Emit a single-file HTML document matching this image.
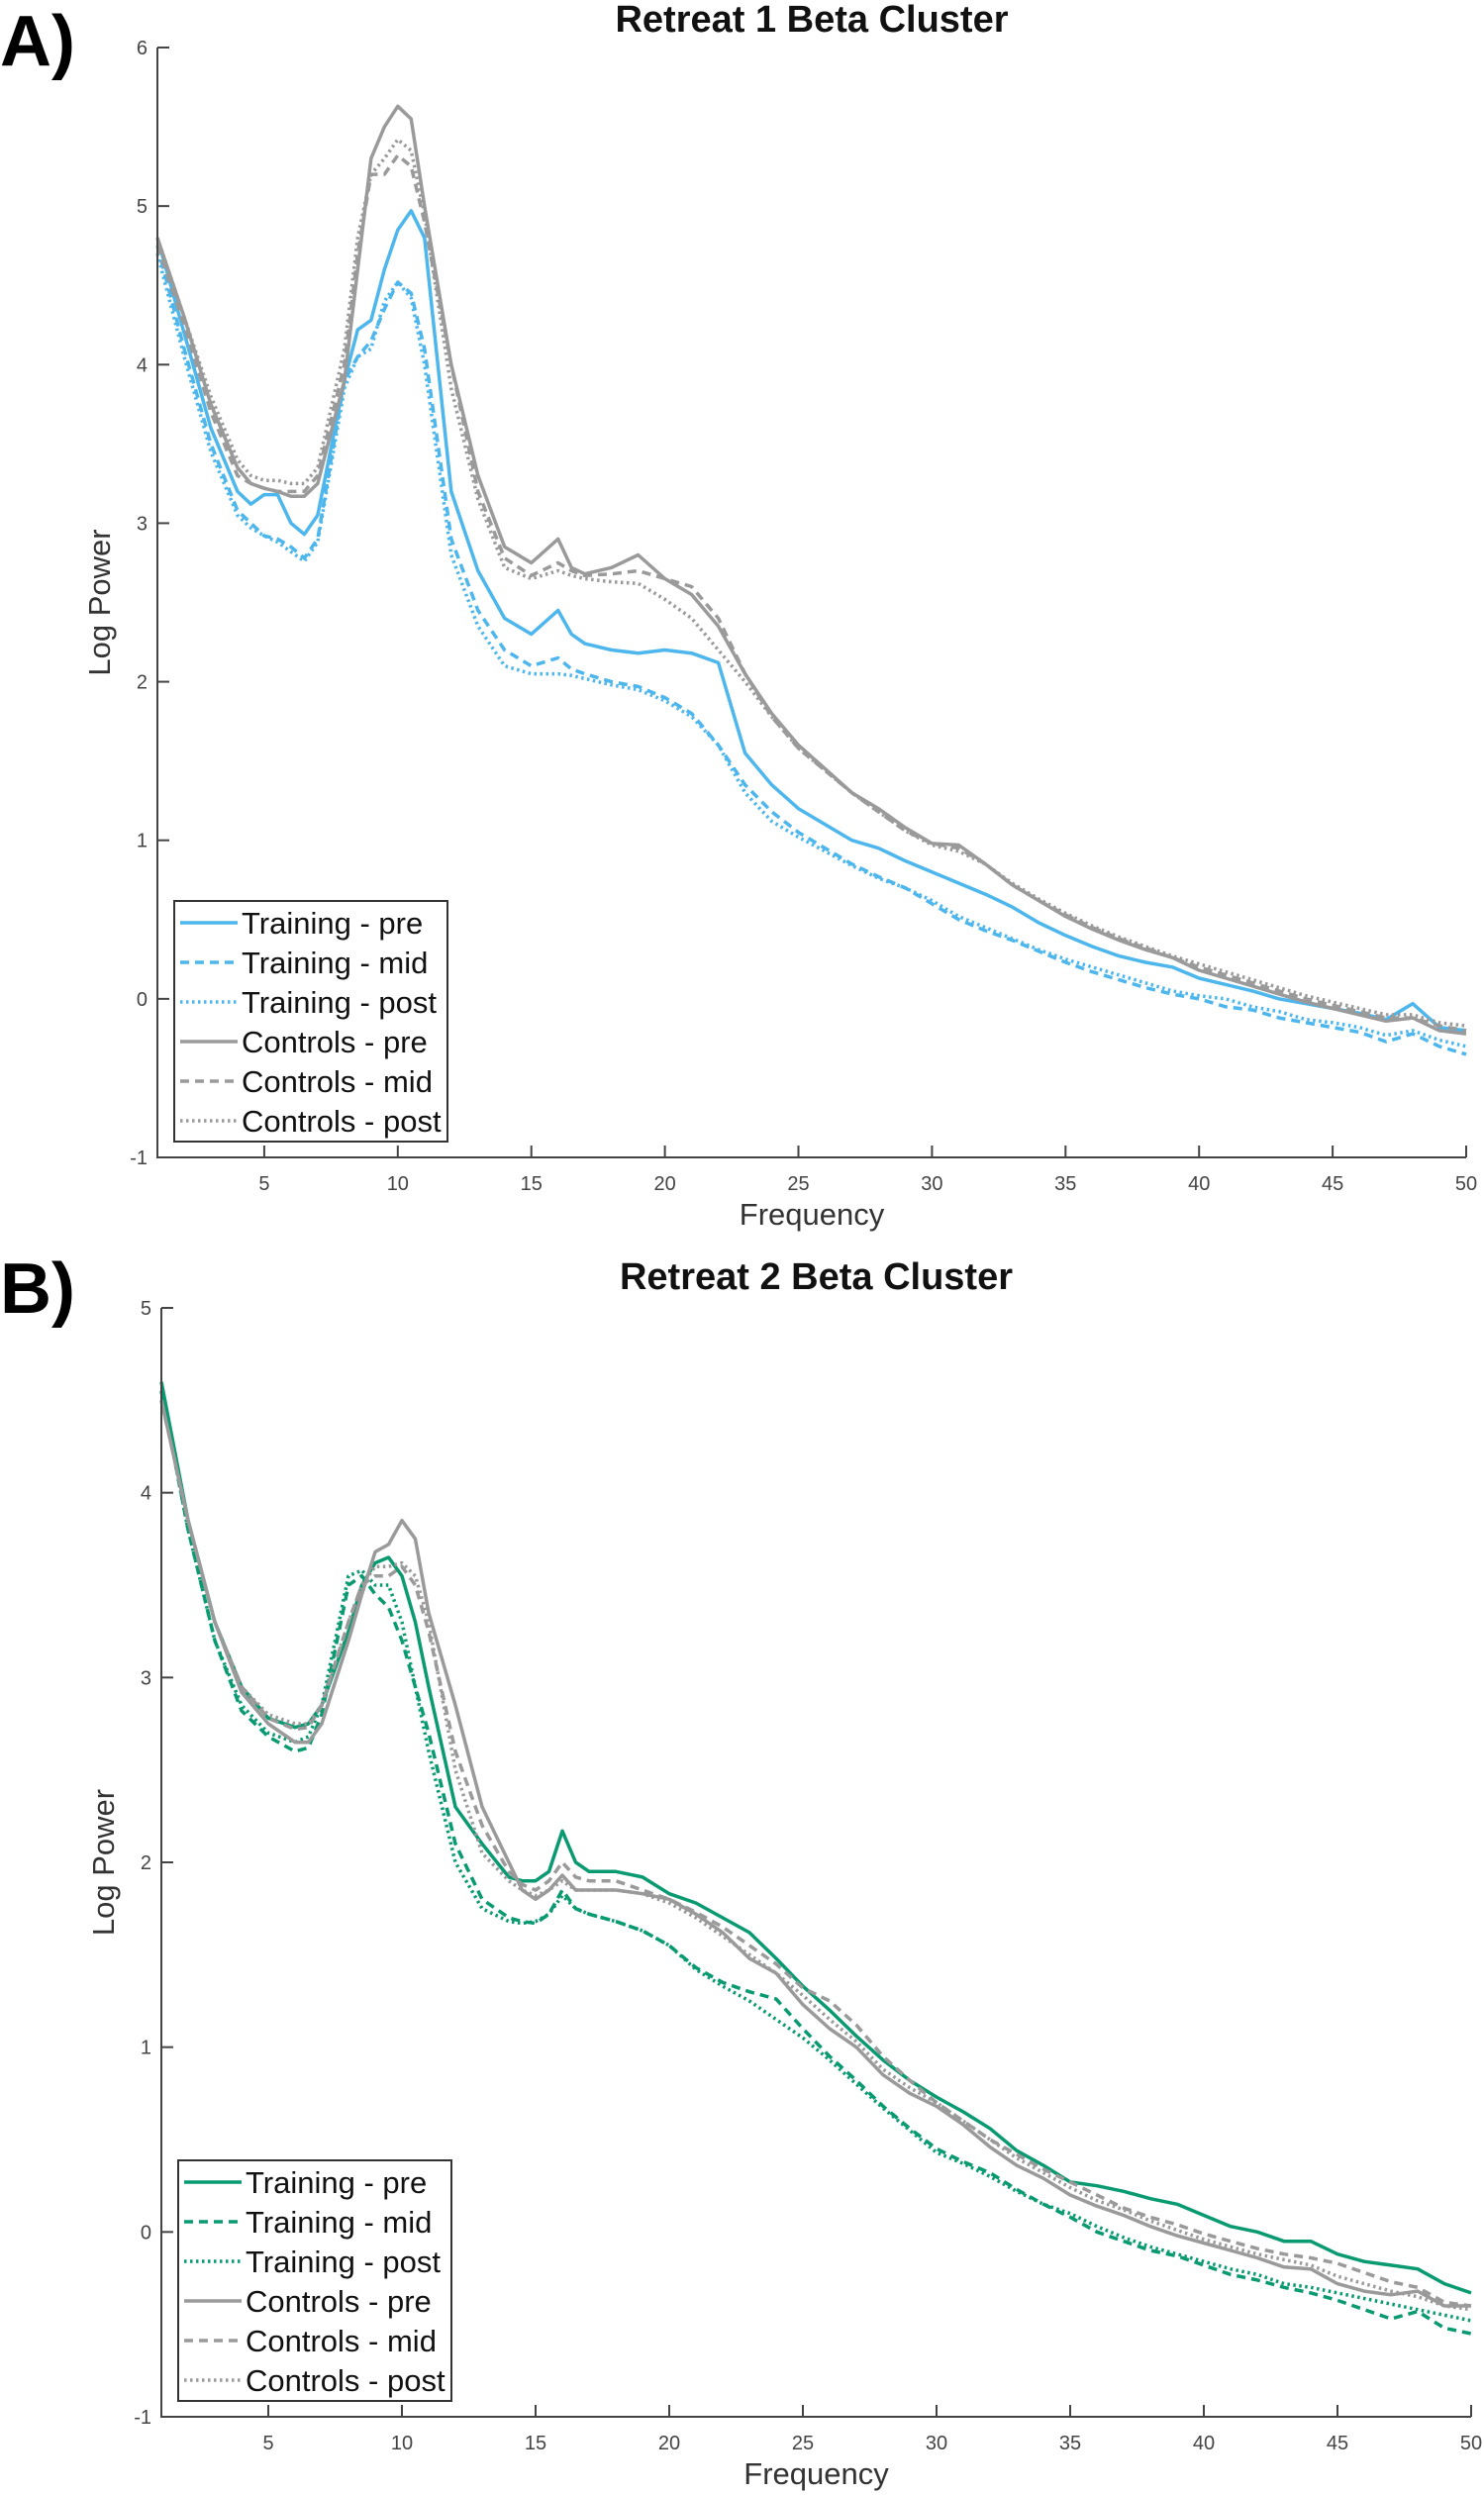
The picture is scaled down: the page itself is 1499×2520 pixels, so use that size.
<!DOCTYPE html>
<html><head><meta charset="utf-8"><style>
html,body{margin:0;padding:0;background:#fff;}
svg{display:block;font-family:"Liberation Sans",Arial,sans-serif;}
</style></head><body>
<svg id="fig" width="1499" height="2520" viewBox="0 0 1499 2520"></svg>
<script>
const freqsA=[1,2,3,4,4.5,5,5.5,6,6.5,7,8,8.5,9,9.5,10,10.5,11,12,13,14,15,16,16.5,17,18,19,20,21,22,23,24,25,26,27,28,29,30,31,32,33,34,35,36,37,38,39,40,41,42,43,44,45,46,47,48,49,50];
const aTrainPre=[4.8,4.2,3.6,3.2,3.12,3.18,3.18,3.0,2.93,3.05,3.9,4.22,4.28,4.6,4.85,4.97,4.8,3.2,2.7,2.4,2.3,2.45,2.3,2.24,2.2,2.18,2.2,2.18,2.12,1.55,1.35,1.2,1.1,1.0,0.95,0.87,0.8,0.73,0.66,0.58,0.48,0.4,0.33,0.27,0.23,0.2,0.13,0.09,0.05,0.0,-0.03,-0.06,-0.09,-0.13,-0.03,-0.18,-0.2];
const aTrainMid=[4.75,4.1,3.5,3.08,3.0,2.92,2.9,2.85,2.78,2.9,3.9,4.05,4.15,4.35,4.52,4.45,4.1,2.9,2.45,2.2,2.1,2.15,2.08,2.05,2.0,1.97,1.9,1.8,1.6,1.35,1.18,1.05,0.95,0.85,0.77,0.7,0.6,0.5,0.43,0.37,0.3,0.23,0.17,0.12,0.07,0.03,0.0,-0.05,-0.07,-0.12,-0.15,-0.18,-0.21,-0.27,-0.22,-0.3,-0.35];
const aTrainPost=[4.7,4.05,3.45,3.05,2.97,2.92,2.88,2.82,2.76,2.88,3.85,4.05,4.1,4.4,4.52,4.42,4.0,2.8,2.35,2.1,2.05,2.05,2.04,2.02,1.98,1.95,1.88,1.78,1.6,1.3,1.12,1.02,0.93,0.84,0.76,0.7,0.62,0.52,0.45,0.38,0.31,0.25,0.2,0.15,0.1,0.05,0.02,0.0,-0.05,-0.08,-0.13,-0.15,-0.18,-0.23,-0.2,-0.26,-0.3];
const aCtrlPre=[4.8,4.3,3.75,3.35,3.25,3.22,3.2,3.17,3.17,3.25,3.9,4.6,5.3,5.5,5.63,5.55,5.0,4.0,3.3,2.85,2.75,2.9,2.72,2.68,2.72,2.8,2.65,2.55,2.35,2.05,1.8,1.6,1.45,1.3,1.2,1.08,0.98,0.97,0.85,0.72,0.62,0.52,0.44,0.37,0.31,0.26,0.18,0.13,0.08,0.03,-0.02,-0.06,-0.1,-0.14,-0.12,-0.2,-0.22];
const aCtrlMid=[4.75,4.25,3.7,3.3,3.25,3.22,3.2,3.2,3.2,3.3,4.0,4.7,5.2,5.2,5.32,5.25,4.9,4.0,3.2,2.78,2.67,2.75,2.7,2.67,2.68,2.7,2.65,2.6,2.4,2.05,1.78,1.58,1.44,1.3,1.18,1.06,0.98,0.95,0.85,0.72,0.62,0.53,0.45,0.38,0.32,0.26,0.2,0.15,0.1,0.05,0.0,-0.04,-0.08,-0.12,-0.12,-0.17,-0.2];
const aCtrlPost=[4.8,4.3,3.8,3.4,3.3,3.27,3.27,3.25,3.25,3.35,4.1,4.8,5.2,5.3,5.42,5.35,4.95,3.85,3.15,2.72,2.65,2.7,2.67,2.65,2.63,2.62,2.52,2.4,2.2,2.0,1.78,1.58,1.44,1.3,1.18,1.06,0.97,0.93,0.85,0.73,0.63,0.54,0.46,0.39,0.33,0.27,0.22,0.17,0.12,0.07,0.02,-0.02,-0.06,-0.1,-0.1,-0.15,-0.17];

const freqsB=[1,2,3,4,5,6,6.5,7,8,8.5,9,9.5,10,10.5,11,12,13,14,14.5,15,15.5,16,16.5,17,18,19,20,21,22,23,24,25,26,27,28,29,30,31,32,33,34,35,36,37,38,39,40,41,42,43,44,45,46,47,48,49,50];
const bTrainPre=[4.6,3.85,3.3,2.95,2.78,2.73,2.75,2.85,3.25,3.5,3.62,3.65,3.55,3.3,2.95,2.3,2.1,1.92,1.9,1.9,1.95,2.17,2.0,1.95,1.95,1.92,1.83,1.78,1.7,1.62,1.48,1.33,1.2,1.06,0.93,0.82,0.73,0.65,0.56,0.44,0.36,0.27,0.25,0.22,0.18,0.15,0.09,0.03,0.0,-0.05,-0.05,-0.12,-0.16,-0.18,-0.2,-0.28,-0.33];
const bTrainMid=[4.55,3.8,3.2,2.82,2.68,2.6,2.62,2.8,3.5,3.55,3.45,3.38,3.2,2.95,2.7,2.1,1.8,1.7,1.68,1.67,1.72,1.85,1.75,1.72,1.68,1.63,1.55,1.43,1.35,1.3,1.26,1.1,0.95,0.82,0.68,0.56,0.45,0.38,0.32,0.23,0.15,0.08,0.0,-0.05,-0.1,-0.13,-0.18,-0.23,-0.26,-0.3,-0.33,-0.37,-0.42,-0.47,-0.43,-0.52,-0.55];
const bTrainPost=[4.55,3.8,3.2,2.85,2.7,2.65,2.68,2.85,3.55,3.58,3.5,3.5,3.3,2.95,2.6,2.0,1.75,1.68,1.67,1.68,1.72,1.82,1.75,1.72,1.68,1.63,1.55,1.42,1.33,1.25,1.15,1.05,0.93,0.8,0.67,0.55,0.43,0.37,0.3,0.22,0.15,0.1,0.03,-0.03,-0.08,-0.12,-0.16,-0.2,-0.23,-0.28,-0.3,-0.33,-0.36,-0.39,-0.42,-0.45,-0.48];
const bCtrlPre=[4.5,3.85,3.3,2.92,2.75,2.65,2.65,2.75,3.2,3.45,3.68,3.72,3.85,3.75,3.35,2.85,2.3,2.0,1.85,1.8,1.85,1.93,1.85,1.85,1.85,1.83,1.8,1.72,1.62,1.48,1.4,1.23,1.1,1.0,0.85,0.75,0.68,0.58,0.46,0.36,0.29,0.2,0.14,0.09,0.03,-0.02,-0.06,-0.1,-0.14,-0.19,-0.2,-0.28,-0.32,-0.34,-0.32,-0.4,-0.4];
const bCtrlMid=[4.5,3.85,3.3,2.95,2.78,2.72,2.73,2.85,3.3,3.5,3.55,3.55,3.6,3.5,3.25,2.6,2.2,1.95,1.88,1.85,1.9,2.0,1.92,1.9,1.9,1.85,1.8,1.73,1.65,1.55,1.45,1.32,1.25,1.12,0.95,0.82,0.7,0.6,0.5,0.42,0.34,0.27,0.2,0.13,0.08,0.04,-0.01,-0.05,-0.09,-0.12,-0.14,-0.17,-0.22,-0.27,-0.3,-0.38,-0.4];
const bCtrlPost=[4.5,3.85,3.3,2.95,2.8,2.75,2.75,2.85,3.3,3.5,3.6,3.6,3.62,3.55,3.3,2.5,2.05,1.9,1.85,1.82,1.85,1.9,1.85,1.85,1.85,1.83,1.78,1.7,1.6,1.5,1.4,1.28,1.15,1.03,0.88,0.78,0.7,0.6,0.5,0.4,0.32,0.24,0.17,0.12,0.06,0.01,-0.04,-0.08,-0.12,-0.15,-0.18,-0.24,-0.28,-0.32,-0.35,-0.4,-0.42];

const xTicks=[5,10,15,20,25,30,35,40,45,50];
const yTicksA=[-1,0,1,2,3,4,5,6];
const yTicksB=[-1,0,1,2,3,4,5];
const legendLabels=["Training - pre","Training - mid","Training - post","Controls - pre","Controls - mid","Controls - post"];

const NS="http://www.w3.org/2000/svg";
const svg=document.getElementById('fig');
function mk(tag,attrs,parent,text){const e=document.createElementNS(NS,tag);for(const k in attrs)e.setAttribute(k,attrs[k]);if(text!==undefined)e.textContent=text;(parent||svg).appendChild(e);return e;}

const BLUE="#4DB6EC",GREEN="#0A9A72",GRAY="#9A9A9A";
const DASH={solid:"",dash:"9,6",dot:"2.5,3.5"};

function drawChart(o){
  const g=mk('g',{});
  
  
  const X=v=>o.L+(v-1)/49*(o.R-o.L);
  const Y=v=>o.B-(v-o.ymin)/(o.ymax-o.ymin)*(o.B-o.T);
  const pl=mk('text',{x:0,y:o.letterY,'font-size':72,'font-weight':'bold',fill:'#000'},g,o.letter);
  
  
  const tt=mk('text',{x:(o.L+o.R)/2,y:o.titleY,'font-size':38,'font-weight':'bold','text-anchor':'middle',fill:'#111'},g,o.title);
  
  
  o.series.forEach(s=>{
    let d='';o.freqs.forEach((f,i)=>{d+=(i?'L':'M')+X(f).toFixed(1)+','+Y(s.vals[i]).toFixed(1);});
    const p=mk('path',{d:d,fill:'none',stroke:s.color,'stroke-width':3.5,'stroke-linejoin':'round','stroke-dasharray':DASH[s.style]},g);
    
    
  });
  const ax=mk('path',{d:`M${o.L},${o.T}V${o.B}H${o.R}`,fill:'none',stroke:'#444','stroke-width':2},g);
  
  
  xTicks.forEach(t=>{
    mk('line',{x1:X(t),x2:X(t),y1:o.B,y2:o.B-12,stroke:'#444','stroke-width':2},g);
    const lb=mk('text',{x:X(t),y:o.B+33,'font-size':20,'text-anchor':'middle',fill:'#444'},g,t);
    
    
  });
  o.yTicks.forEach(t=>{
    mk('line',{x1:o.L,x2:o.L+12,y1:Y(t),y2:Y(t),stroke:'#444','stroke-width':2},g);
    const lb=mk('text',{x:o.L-10,y:Y(t)+7,'font-size':20,'text-anchor':'end',fill:'#444'},g,t);
    
    
  });
  const xl=mk('text',{x:(o.L+o.R)/2,y:o.B+68,'font-size':31,'text-anchor':'middle',fill:'#333'},g,'Frequency');
  
  
  const yl=mk('text',{x:0,y:0,'font-size':31,'text-anchor':'middle',fill:'#333',transform:`translate(${o.L-48},${(o.T+o.B)/2}) rotate(-90)`},g,'Log Power');
  
  
  const lg=mk('g',{},g);
  
  
  mk('rect',{x:o.legX,y:o.legY,width:276,height:243,fill:'#fff',stroke:'#333','stroke-width':2},lg);
  o.series.forEach((s,i)=>{
    const cy=o.legY+22+i*40;
    const le=mk('g',{},lg);
    
    
    mk('line',{x1:o.legX+6,x2:o.legX+64,y1:cy,y2:cy,stroke:s.color,'stroke-width':3.5,'stroke-dasharray':DASH[s.style]},le);
    mk('text',{x:o.legX+68,y:cy+11,'font-size':31,fill:'#111'},le,legendLabels[i]);
  });
}

drawChart({name:'chart-retreat-1',letter:'A)',letterY:66,title:'Retreat 1 Beta Cluster',titleY:32,
  L:159,R:1481,T:48,B:1169,ymin:-1,ymax:6,yTicks:yTicksA,freqs:freqsA,legX:176,legY:910,
  series:[{id:'line-training-pre',vals:aTrainPre,color:BLUE,style:'solid'},
          {id:'line-training-mid',vals:aTrainMid,color:BLUE,style:'dash'},
          {id:'line-training-post',vals:aTrainPost,color:BLUE,style:'dot'},
          {id:'line-controls-pre',vals:aCtrlPre,color:GRAY,style:'solid'},
          {id:'line-controls-mid',vals:aCtrlMid,color:GRAY,style:'dash'},
          {id:'line-controls-post',vals:aCtrlPost,color:GRAY,style:'dot'}]});
drawChart({name:'chart-retreat-2',letter:'B)',letterY:1326,title:'Retreat 2 Beta Cluster',titleY:1302,
  L:163,R:1486,T:1321,B:2441,ymin:-1,ymax:5,yTicks:yTicksB,freqs:freqsB,legX:180,legY:2182,
  series:[{id:'line-training-pre',vals:bTrainPre,color:GREEN,style:'solid'},
          {id:'line-training-mid',vals:bTrainMid,color:GREEN,style:'dash'},
          {id:'line-training-post',vals:bTrainPost,color:GREEN,style:'dot'},
          {id:'line-controls-pre',vals:bCtrlPre,color:GRAY,style:'solid'},
          {id:'line-controls-mid',vals:bCtrlMid,color:GRAY,style:'dash'},
          {id:'line-controls-post',vals:bCtrlPost,color:GRAY,style:'dot'}]});
</script>
</body></html>
